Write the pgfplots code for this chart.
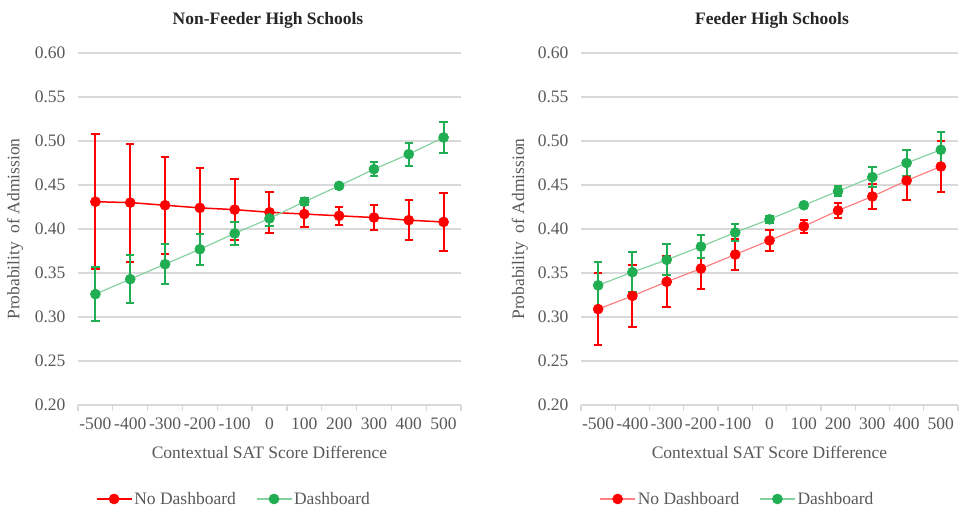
\documentclass[border=0pt]{standalone}
\usepackage{fontspec}
\setmainfont{Liberation Serif}
\usepackage{pgfplots}
\usepackage{pgfplotstable}
\pgfplotsset{compat=1.18}
\definecolor{txtgray}{HTML}{595959}
\definecolor{gridgray}{HTML}{D9D9D9}
\definecolor{ered}{HTML}{FF0000}
\definecolor{egreen}{HTML}{21AD52}

\pgfplotstableread{
x y e
-500 0.431 0.0765
-400 0.430 0.067
-300 0.427 0.055
-200 0.424 0.045
-100 0.422 0.035
0 0.419 0.023
100 0.417 0.015
200 0.415 0.010
300 0.413 0.014
400 0.410 0.0225
500 0.408 0.033
}\LR
\pgfplotstableread{
x y e
-500 0.326 0.0305
-400 0.343 0.027
-300 0.360 0.023
-200 0.377 0.0175
-100 0.395 0.013
0 0.412 0.009
100 0.431 0.004
200 0.449 0.003
300 0.468 0.008
400 0.485 0.013
500 0.504 0.0175
}\LG
\pgfplotstableread{
x y e
-500 0.309 0.041
-400 0.324 0.035
-300 0.340 0.029
-200 0.355 0.0235
-100 0.371 0.0175
0 0.387 0.012
100 0.403 0.007
200 0.421 0.008
300 0.437 0.0145
400 0.455 0.0225
500 0.471 0.029
}\RR
\pgfplotstableread{
x y e
-500 0.336 0.026
-400 0.351 0.0225
-300 0.365 0.0177
-200 0.380 0.0135
-100 0.396 0.0095
0 0.411 0.004
100 0.427 0.003
200 0.443 0.006
300 0.459 0.0118
400 0.475 0.0145
500 0.490 0.0204
}\RG

\newcommand{\fs}{\fontsize{17.5}{20}\selectfont}

\pgfplotsset{
  panel/.style={
    scale only axis, height=352pt,
    xmin=-550, xmax=550, ymin=0.2, ymax=0.6,
    ytick={0.20,0.25,0.30,0.35,0.40,0.45,0.50,0.55,0.60},
    ymajorgrids, grid style={gridgray, line width=1.2pt},
    axis line style={draw=none},
    major tick length=0pt,
    xtick={-500,-400,...,500},
    xticklabels={-500,-400,-300,-200,-100,0,100,200,300,400,500},
    extra x ticks={-550,-450,...,550},
    extra x tick labels={},
    extra x tick style={major tick length=6pt, tick align=outside, tick style={gridgray, line width=1.2pt}},
    xtick pos=bottom, ytick pos=left,
    tick label style={font=\fs, text=txtgray},
    xticklabel style={yshift=-9pt},
    yticklabel style={xshift=-9pt, /pgf/number format/.cd, fixed, fixed zerofill, precision=2, assume math mode=true},
    label style={font=\fs, text=txtgray},
    clip=false,
    legend style={draw=none, fill=none, legend columns=2, font=\fs, text=txtgray,
      /tikz/every even column/.append style={column sep=18pt}},
    legend cell align=left,
    legend image code/.code={\draw[mark repeat=2,mark phase=2] plot coordinates {(0pt,0pt) (17.5pt,0pt) (35pt,0pt)};},
  },
  ebar/.style={error bars/.cd, y dir=both, y explicit,
    error bar style={draw=#1, line width=2pt},
    error mark options={draw=#1, rotate=90, mark size=4.2pt, line width=2pt}},
  mk/.style={mark=*, mark size=5pt, mark options={solid, fill=#1, draw=#1, line width=0.6pt}},
}

\begin{document}
\begin{tikzpicture}
\useasboundingbox (0,0) rectangle (959pt,511pt);

\begin{axis}[panel, width=383pt, at={(78pt,106pt)}, anchor=south west,
  xlabel={Contextual SAT Score Difference},
  ylabel={Probability\ \ of Admission},
  xlabel style={at={(axis description cs:0.5,-0.136)}, anchor=center},
  ylabel style={at={(axis description cs:-0.164,0.5)}, anchor=center},
  legend style={at={(0.407,-0.267)}, anchor=center}]
\addplot[ered, line width=1.5pt, mk=ered, ebar=ered] table[x=x, y=y, y error=e]{\LR};
\addlegendentry{No Dashboard}
\addplot[egreen!55!white, line width=1.2pt, mk=egreen, ebar=egreen] table[x=x, y=y, y error=e]{\LG};
\addlegendentry{Dashboard}
\end{axis}

\begin{axis}[panel, width=377pt, at={(581pt,106pt)}, anchor=south west,
  xlabel={Contextual SAT Score Difference},
  ylabel={Probability\ \ of Admission},
  xlabel style={at={(axis description cs:0.5,-0.136)}, anchor=center},
  ylabel style={at={(axis description cs:-0.162,0.5)}, anchor=center},
  legend style={at={(0.415,-0.267)}, anchor=center}]
\addplot[ered!50!white, line width=1.2pt, mk=ered, ebar=ered] table[x=x, y=y, y error=e]{\RR};
\addlegendentry{No Dashboard}
\addplot[egreen!55!white, line width=1.2pt, mk=egreen, ebar=egreen] table[x=x, y=y, y error=e]{\RG};
\addlegendentry{Dashboard}
\end{axis}

\node[font=\fs\bfseries, text=black!85] at (268pt,491pt) {Non-Feeder High Schools};
\node[font=\fs\bfseries, text=black!85] at (772pt,491pt) {Feeder High Schools};
\end{tikzpicture}
\end{document}
